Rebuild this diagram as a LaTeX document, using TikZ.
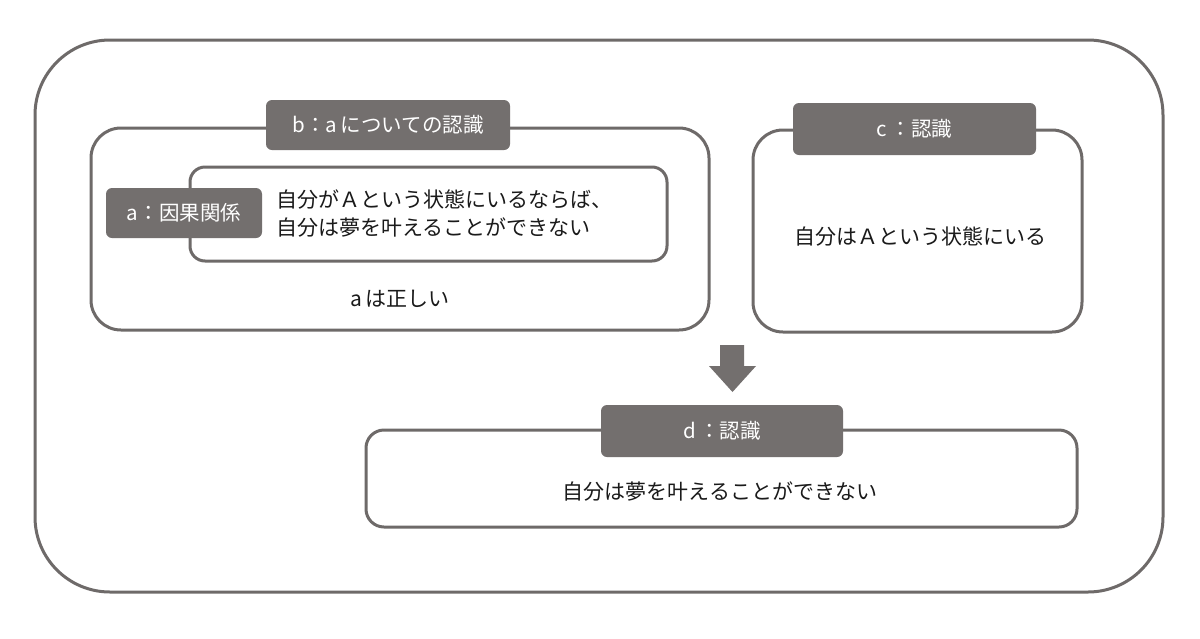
\documentclass[tikz,border=0pt]{standalone}
\usepackage{fontspec}
\setmainfont{Noto Sans CJK JP}
\definecolor{frame}{HTML}{6E6A69}
\definecolor{labfill}{HTML}{736F6E}
\definecolor{txt}{HTML}{1A1A1A}
\begin{document}
\begin{tikzpicture}[x=1pt,y=-1pt,
  boxline/.style={draw=frame,line width=3pt,rectangle,inner sep=0pt,fill=white},
  labbox/.style={rectangle,fill=labfill,rounded corners=6pt,inner sep=0pt,text=white,font=\fontsize{20.5}{24}\selectfont},
  bodytext/.style={text=txt,font=\fontsize{21}{28}\selectfont,inner sep=0pt}]
\useasboundingbox (0,0) rectangle (1200,638);
\fill[white] (0,0) rectangle (1200,638);
\node[boxline,rounded corners=75pt,minimum width=1128pt,minimum height=552pt] (outer) at (599,316) {};
% box b
\node[boxline,rounded corners=30pt,minimum width=618pt,minimum height=202pt] (bbox) at (400,229) {};
\node[labbox,minimum width=244pt,minimum height=50pt] (blab) at (388,125) {b：a\,についての認識};
% box a
\node[boxline,rounded corners=15pt,minimum width=477pt,minimum height=94pt] (abox) at (428.5,214) {};
\node[labbox,minimum width=156pt,minimum height=50pt] (alab) at (184,213) {a：因果関係};
\node[bodytext,anchor=west,align=left] (atext) at (276,214) {自分がＡという状態にいるならば、\\自分は夢を叶えることができない};
\node[bodytext] (btext) at (400,299) {a\,は正しい};
% box c
\node[boxline,rounded corners=30pt,minimum width=329pt,minimum height=202pt] (cbox) at (917.5,231) {};
\node[labbox,minimum width=243pt,minimum height=52pt] (clab) at (914.5,129) {c\,：認識};
\node[bodytext] (ctext) at (920,237) {自分はＡという状態にいる};
% arrow
\fill[labfill] (720,345) -- (744,345) -- (744,366) -- (756,366) -- (732.5,392) -- (709,366) -- (720,366) -- cycle;
% box d
\node[boxline,rounded corners=18pt,minimum width=711pt,minimum height=97pt] (dbox) at (721.5,478.5) {};
\node[labbox,minimum width=242pt,minimum height=52pt] (dlab) at (722,431) {d\,：認識};
\node[bodytext] (dtext) at (720,492) {自分は夢を叶えることができない};
\end{tikzpicture}
\end{document}
